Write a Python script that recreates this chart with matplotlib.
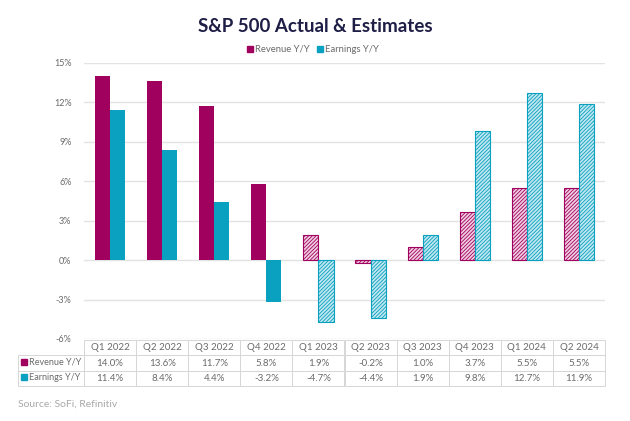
import numpy as np
import matplotlib.pyplot as plt
from matplotlib.patches import Rectangle

# Data
quarters = ["Q1 2022", "Q2 2022", "Q3 2022", "Q4 2022", "Q1 2023",
            "Q2 2023", "Q3 2023", "Q4 2023", "Q1 2024", "Q2 2024"]
revenue = [14.0, 13.6, 11.7, 5.8, 1.9, -0.2, 1.0, 3.7, 5.5, 5.5]
earnings = [11.4, 8.4, 4.4, -3.2, -4.7, -4.4, 1.9, 9.8, 12.7, 11.9]
n_actual = 4  # first quarters are actuals, the rest estimates
yticks = [-6, -3, 0, 3, 6, 9, 12, 15]

REV = "#A0005E"
EARN = "#0AA0C0"
REV_LIGHT = "#F0CDE0"
EARN_LIGHT = "#BFE7F0"
GRID = "#E3E3E3"
TXT = "#6A6A6A"

plt.rcParams["font.family"] = ["Lato", "DejaVu Sans"]
plt.rcParams["hatch.linewidth"] = 0.6

W, H = 630, 421
fig = plt.figure(figsize=(W / 100, H / 100), dpi=100)
ax = fig.add_axes([84 / W, 1 - 339 / H, 521 / W, 276 / H])

x = np.arange(len(quarters))
bw = 0.29
for i in x:
    if i < n_actual:
        ax.bar(i - bw / 2, revenue[i], bw, color=REV, zorder=3)
        ax.bar(i + bw / 2, earnings[i], bw, color=EARN, zorder=3)
    else:
        ax.bar(i - bw / 2, revenue[i], bw, facecolor=REV_LIGHT, edgecolor=REV,
               hatch="/////////", linewidth=0.8, zorder=3)
        ax.bar(i + bw / 2, earnings[i], bw, facecolor=EARN_LIGHT, edgecolor=EARN,
               hatch="/////////", linewidth=0.8, zorder=3)

ax.set_xlim(-0.5, len(quarters) - 0.5)
ax.set_ylim(-6, 15)
ax.set_yticks(yticks)
ax.set_yticklabels([f"{t}%" for t in yticks], fontsize=6.5, color=TXT)
ax.set_xticks([])
ax.yaxis.grid(True, color=GRID, linewidth=1)
ax.set_axisbelow(True)
ax.tick_params(axis="y", length=0, pad=9)
for s in ax.spines.values():
    s.set_visible(False)

# Title and legend
fig.text(0.5, 1 - 27 / H, "S&P 500 Actual & Estimates", ha="center", va="center",
         fontsize=13.5, fontweight="bold", color="#1E1E46")
legend_items = [("Revenue Y/Y", REV, 247), ("Earnings Y/Y", EARN, 317)]
for label, col, px in legend_items:
    fig.patches.append(Rectangle((px / W, 1 - 52 / H), 6 / W, 6 / H, color=col,
                                 transform=fig.transFigure, figure=fig))
    fig.text((px + 8) / W, 1 - 49 / H, label, fontsize=6.8, color=TXT, va="center")

# Data table
cell_text = [[""] + quarters,
             [""] + [f"{v:.1f}%" for v in revenue],
             [""] + [f"{v:.1f}%" for v in earnings]]
tx0, tx1 = 18, 605
first_w = 66
col_w = (tx1 - tx0 - first_w) / len(quarters)
widths = [first_w / (tx1 - tx0)] + [col_w / (tx1 - tx0)] * len(quarters)
tbl = ax.table(cellText=cell_text, colWidths=widths, cellLoc="center",
               bbox=[(tx0 - 84) / 521, (339 - 386) / 276, (tx1 - tx0) / 521, 46 / 276])
tbl.auto_set_font_size(False)
for (r, c), cell in tbl.get_celld().items():
    cell.set_edgecolor("#D6D6D6")
    cell.set_linewidth(0.7)
    cell.get_text().set_fontsize(7)
    cell.get_text().set_color(TXT)
    if r == 0 and c == 0:
        cell.visible_edges = ""

# row labels with coloured markers
for label, col, yc in [("Revenue Y/Y", REV, 362), ("Earnings Y/Y", EARN, 377)]:
    fig.patches.append(Rectangle((21 / W, 1 - (yc + 3) / H), 6 / W, 6 / H, color=col,
                                 transform=fig.transFigure, figure=fig, zorder=5))
    fig.text(29 / W, 1 - yc / H, label, fontsize=6.5, color=TXT, va="center", zorder=5)

fig.text(18 / W, 1 - 404 / H, "Source: SoFi, Refinitiv", fontsize=7.5,
         color="#A8A8A8", va="center")

fig.savefig("out.png", dpi=100)
